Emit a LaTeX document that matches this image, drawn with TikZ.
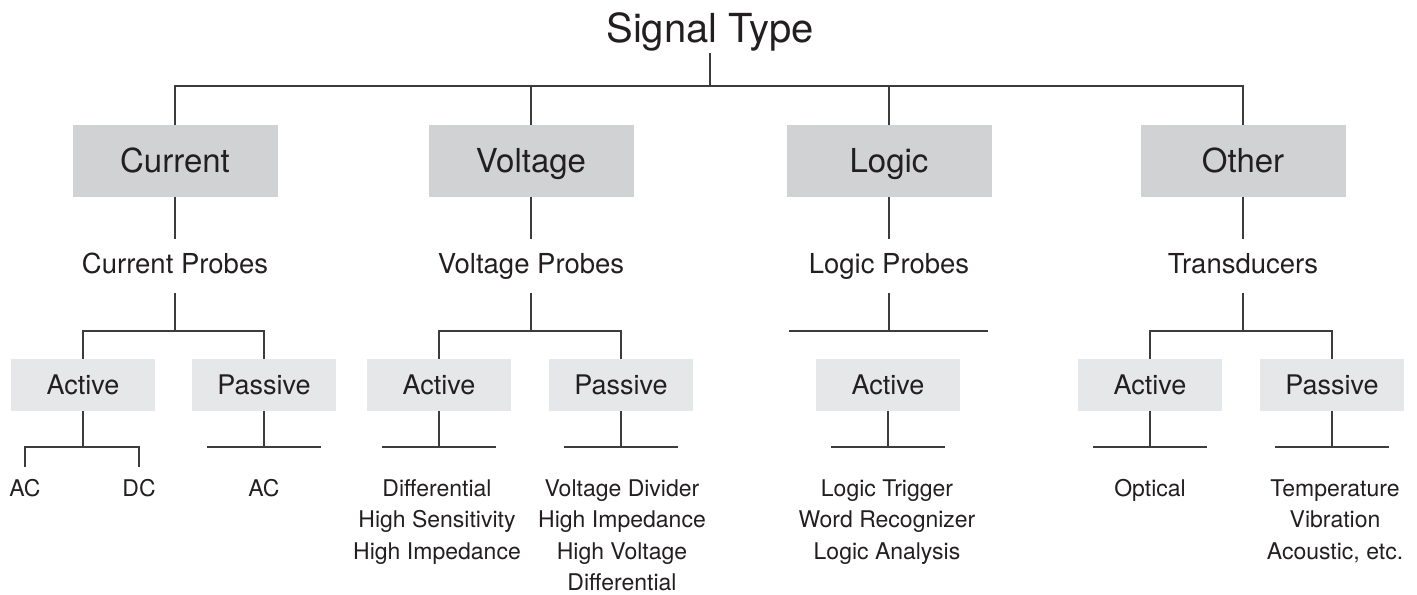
\documentclass[tikz,border=0pt]{standalone}
\usepackage{fontspec}
\setmainfont{TeX Gyre Heros}
\definecolor{boxdark}{RGB}{209,210,212}
\definecolor{boxlight}{RGB}{230,231,232}
\definecolor{linegray}{RGB}{60,60,60}
\definecolor{textgray}{RGB}{35,31,32}
\begin{document}
\begin{tikzpicture}[x=0.5pt, y=-0.5pt, text=textgray,
		link/.style={draw=linegray, line width=0.55pt},
		bigbox/.style={fill=boxdark, minimum width=102.5pt, minimum height=36pt, inner sep=0pt, text height=11.9pt, text depth=0pt, font=\fontsize{16.5}{18}\selectfont},
		smallbox/.style={fill=boxlight, minimum width=72pt, minimum height=26pt, inner sep=0pt, text height=9.7pt, text depth=0pt, font=\fontsize{13.5}{15}\selectfont},
		probe/.style={anchor=base, inner xsep=0pt, inner ysep=6.75pt, text height=9.9pt, text depth=3pt, font=\fontsize{13.75}{15}\selectfont},
		leaf/.style={anchor=north, align=center, inner xsep=0pt, inner ysep=6pt, font=\fontsize{11.5}{15.75}\selectfont}]
		\useasboundingbox (0, 0) rectangle (1417, 594);

		\node[anchor=base, inner sep=0pt, text depth=5.5pt, font=\fontsize{20}{22}\selectfont] (sig) at (710, 42) {Signal Type};
		\coordinate (bar) at (710, 86);

		\node[bigbox] (cur) at (175, 161) {Current};
		\node[bigbox] (vol) at (531, 161) {Voltage};
		\node[bigbox] (log) at (889, 161) {Logic};
		\node[bigbox] (oth) at (1243, 161) {Other};

		\node[probe] (curp) at (175, 273) {Current Probes};
		\node[probe] (volp) at (531, 273) {Voltage Probes};
		\node[probe] (logp) at (889, 273) {Logic Probes};
		\node[probe] (othp) at (1243, 273) {Transducers};

		\coordinate (curj) at (175, 331);
		\coordinate (volj) at (531, 331);
		\coordinate (logl) at (789, 331);
		\coordinate (logr) at (988, 331);
		\coordinate (othj) at (1243, 331);

		\node[smallbox] (ca) at (83, 385) {Active};
		\node[smallbox] (cp) at (264, 385) {Passive};
		\node[smallbox] (va) at (439, 385) {Active};
		\node[smallbox] (vp) at (621, 385) {Passive};
		\node[smallbox] (la) at (888, 385) {Active};
		\node[smallbox] (oa) at (1150, 385) {Active};
		\node[smallbox] (op) at (1332, 385) {Passive};

		\coordinate (caj) at (83, 447);
		\coordinate (cpj) at (264, 447);
		\coordinate (vaj) at (439, 447);
		\coordinate (vpj) at (621, 447);
		\coordinate (laj) at (888, 447);
		\coordinate (oaj) at (1150, 447);
		\coordinate (opj) at (1332, 447);

		\node[leaf] (acl) at (25, 467) {AC};
		\node[leaf] (dcl) at (139, 467) {DC};
		\node[leaf] (acp) at (264, 467) {AC};
		\node[leaf] (vad) at (437, 467) {Differential\\High Sensitivity\\High Impedance};
		\node[leaf] (vpd) at (622, 467) {Voltage Divider\\High Impedance\\High Voltage\\Differential};
		\node[leaf] (lad) at (887, 467) {Logic Trigger\\Word Recognizer\\Logic Analysis};
		\node[leaf] (oad) at (1150, 467) {Optical};
		\node[leaf] (opd) at (1335, 467) {Temperature\\Vibration\\Acoustic, etc.};

		\draw[link] (sig.south) -- (bar);
		\draw[link] (cur.north) |- (bar) -| (oth.north);
		\draw[link] (vol.north) -- (vol.north |- bar);
		\draw[link] (log.north) -- (log.north |- bar);

		\draw[link] (cur.south) -- (curp.north);
		\draw[link] (vol.south) -- (volp.north);
		\draw[link] (log.south) -- (logp.north);
		\draw[link] (oth.south) -- (othp.north);

		\draw[link] (curp.south) -- (curj);
		\draw[link] (volp.south) -- (volj);
		\draw[link] (logp.south) -- (logp.south |- logl);
		\draw[link] (othp.south) -- (othj);

		\draw[link] (ca.north) |- (curj) -| (cp.north);
		\draw[link] (va.north) |- (volj) -| (vp.north);
		\draw[link] (logl) -- (logr);
		\draw[link] (oa.north) |- (othj) -| (op.north);

		\draw[link] (ca.south) -- (caj);
		\draw[link] (cp.south) -- (cpj);
		\draw[link] (va.south) -- (vaj);
		\draw[link] (vp.south) -- (vpj);
		\draw[link] (la.south) -- (laj);
		\draw[link] (oa.south) -- (oaj);
		\draw[link] (op.south) -- (opj);

		\draw[link] (acl.north) |- (caj) -| (dcl.north);
		\draw[link] ([xshift=-28.5pt]cpj) -- ([xshift=28.5pt]cpj);
		\draw[link] ([xshift=-28.5pt]vaj) -- ([xshift=28.5pt]vaj);
		\draw[link] ([xshift=-28.5pt]vpj) -- ([xshift=28.5pt]vpj);
		\draw[link] ([xshift=-28.5pt]laj) -- ([xshift=28.5pt]laj);
		\draw[link] ([xshift=-28.5pt]oaj) -- ([xshift=28.5pt]oaj);
		\draw[link] ([xshift=-28.5pt]opj) -- ([xshift=28.5pt]opj);
	\end{tikzpicture}
\end{document}
